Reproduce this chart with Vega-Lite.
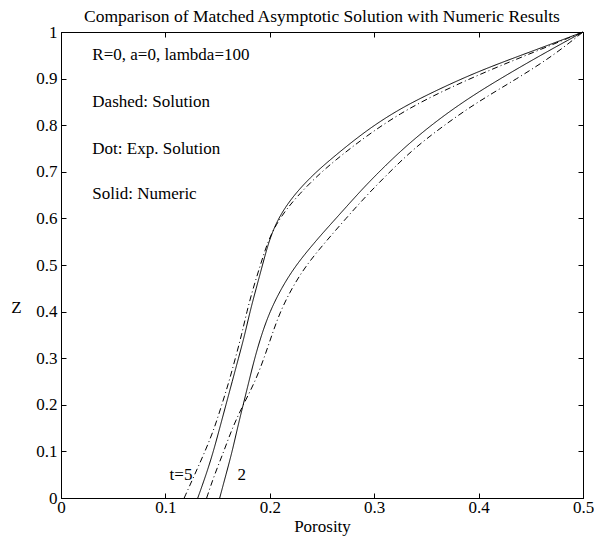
{
  "$schema": "https://vega.github.io/schema/vega-lite/v6.json",
  "width": 522,
  "height": 466,
  "autosize": {"type": "none"},
  "padding": {"left": 61, "top": 32, "right": 11, "bottom": 41},
  "background": "white",
  "title": {"text": "Comparison of Matched Asymptotic Solution with Numeric Results", "offset": -2},
  "config": {
    "view": {"stroke": "black", "strokeWidth": 1},
    "font": "Liberation Serif",
    "title": {"font": "Liberation Serif", "fontSize": 17.5, "fontWeight": "normal", "color": "black"},
    "axis": {
      "grid": false,
      "domainColor": "black",
      "tickColor": "black",
      "labelColor": "black",
      "titleColor": "black",
      "labelFont": "Liberation Serif",
      "titleFont": "Liberation Serif",
      "labelFontSize": 17,
      "titleFontSize": 17,
      "titleFontWeight": "normal",
      "tickSize": -5,
      "labelFlush": false,
      "labelOverlap": false
    }
  },
  "datasets": {
    "curves": [
      {"curve": "num5", "style": "Numeric", "x": 0.131, "z": 0},
      {"curve": "num5", "style": "Numeric", "x": 0.139, "z": 0.05},
      {"curve": "num5", "style": "Numeric", "x": 0.146, "z": 0.10},
      {"curve": "num5", "style": "Numeric", "x": 0.152, "z": 0.15},
      {"curve": "num5", "style": "Numeric", "x": 0.158, "z": 0.20},
      {"curve": "num5", "style": "Numeric", "x": 0.164, "z": 0.25},
      {"curve": "num5", "style": "Numeric", "x": 0.170, "z": 0.30},
      {"curve": "num5", "style": "Numeric", "x": 0.176, "z": 0.35},
      {"curve": "num5", "style": "Numeric", "x": 0.181, "z": 0.40},
      {"curve": "num5", "style": "Numeric", "x": 0.187, "z": 0.45},
      {"curve": "num5", "style": "Numeric", "x": 0.193, "z": 0.50},
      {"curve": "num5", "style": "Numeric", "x": 0.199, "z": 0.55},
      {"curve": "num5", "style": "Numeric", "x": 0.206, "z": 0.59},
      {"curve": "num5", "style": "Numeric", "x": 0.215, "z": 0.625},
      {"curve": "num5", "style": "Numeric", "x": 0.227, "z": 0.66},
      {"curve": "num5", "style": "Numeric", "x": 0.243, "z": 0.697},
      {"curve": "num5", "style": "Numeric", "x": 0.261, "z": 0.732},
      {"curve": "num5", "style": "Numeric", "x": 0.293, "z": 0.79},
      {"curve": "num5", "style": "Numeric", "x": 0.325, "z": 0.836},
      {"curve": "num5", "style": "Numeric", "x": 0.357, "z": 0.872},
      {"curve": "num5", "style": "Numeric", "x": 0.389, "z": 0.905},
      {"curve": "num5", "style": "Numeric", "x": 0.42, "z": 0.933},
      {"curve": "num5", "style": "Numeric", "x": 0.46, "z": 0.966},
      {"curve": "num5", "style": "Numeric", "x": 0.5, "z": 1},
      {"curve": "sol5", "style": "Solution", "x": 0.118, "z": 0},
      {"curve": "sol5", "style": "Solution", "x": 0.128, "z": 0.05},
      {"curve": "sol5", "style": "Solution", "x": 0.138, "z": 0.10},
      {"curve": "sol5", "style": "Solution", "x": 0.147, "z": 0.15},
      {"curve": "sol5", "style": "Solution", "x": 0.154, "z": 0.20},
      {"curve": "sol5", "style": "Solution", "x": 0.161, "z": 0.25},
      {"curve": "sol5", "style": "Solution", "x": 0.167, "z": 0.30},
      {"curve": "sol5", "style": "Solution", "x": 0.173, "z": 0.35},
      {"curve": "sol5", "style": "Solution", "x": 0.178, "z": 0.40},
      {"curve": "sol5", "style": "Solution", "x": 0.184, "z": 0.45},
      {"curve": "sol5", "style": "Solution", "x": 0.191, "z": 0.50},
      {"curve": "sol5", "style": "Solution", "x": 0.198, "z": 0.55},
      {"curve": "sol5", "style": "Solution", "x": 0.206, "z": 0.587},
      {"curve": "sol5", "style": "Solution", "x": 0.216, "z": 0.62},
      {"curve": "sol5", "style": "Solution", "x": 0.229, "z": 0.654},
      {"curve": "sol5", "style": "Solution", "x": 0.244, "z": 0.688},
      {"curve": "sol5", "style": "Solution", "x": 0.261, "z": 0.722},
      {"curve": "sol5", "style": "Solution", "x": 0.293, "z": 0.778},
      {"curve": "sol5", "style": "Solution", "x": 0.325, "z": 0.8255},
      {"curve": "sol5", "style": "Solution", "x": 0.357, "z": 0.864},
      {"curve": "sol5", "style": "Solution", "x": 0.389, "z": 0.897},
      {"curve": "sol5", "style": "Solution", "x": 0.42, "z": 0.927},
      {"curve": "sol5", "style": "Solution", "x": 0.46, "z": 0.963},
      {"curve": "sol5", "style": "Solution", "x": 0.5, "z": 1},
      {"curve": "num2", "style": "Numeric", "x": 0.152, "z": 0},
      {"curve": "num2", "style": "Numeric", "x": 0.158, "z": 0.05},
      {"curve": "num2", "style": "Numeric", "x": 0.164, "z": 0.10},
      {"curve": "num2", "style": "Numeric", "x": 0.169, "z": 0.15},
      {"curve": "num2", "style": "Numeric", "x": 0.1745, "z": 0.20},
      {"curve": "num2", "style": "Numeric", "x": 0.180, "z": 0.25},
      {"curve": "num2", "style": "Numeric", "x": 0.1855, "z": 0.30},
      {"curve": "num2", "style": "Numeric", "x": 0.192, "z": 0.35},
      {"curve": "num2", "style": "Numeric", "x": 0.200, "z": 0.40},
      {"curve": "num2", "style": "Numeric", "x": 0.211, "z": 0.45},
      {"curve": "num2", "style": "Numeric", "x": 0.225, "z": 0.50},
      {"curve": "num2", "style": "Numeric", "x": 0.2435, "z": 0.55},
      {"curve": "num2", "style": "Numeric", "x": 0.2545, "z": 0.578},
      {"curve": "num2", "style": "Numeric", "x": 0.273, "z": 0.624},
      {"curve": "num2", "style": "Numeric", "x": 0.293, "z": 0.674},
      {"curve": "num2", "style": "Numeric", "x": 0.325, "z": 0.745},
      {"curve": "num2", "style": "Numeric", "x": 0.357, "z": 0.805},
      {"curve": "num2", "style": "Numeric", "x": 0.389, "z": 0.856},
      {"curve": "num2", "style": "Numeric", "x": 0.42, "z": 0.899},
      {"curve": "num2", "style": "Numeric", "x": 0.46, "z": 0.951},
      {"curve": "num2", "style": "Numeric", "x": 0.5, "z": 1},
      {"curve": "sol2", "style": "Solution", "x": 0.1395, "z": 0},
      {"curve": "sol2", "style": "Solution", "x": 0.147, "z": 0.05},
      {"curve": "sol2", "style": "Solution", "x": 0.156, "z": 0.10},
      {"curve": "sol2", "style": "Solution", "x": 0.164, "z": 0.15},
      {"curve": "sol2", "style": "Solution", "x": 0.1745, "z": 0.20},
      {"curve": "sol2", "style": "Solution", "x": 0.186, "z": 0.25},
      {"curve": "sol2", "style": "Solution", "x": 0.1945, "z": 0.30},
      {"curve": "sol2", "style": "Solution", "x": 0.202, "z": 0.35},
      {"curve": "sol2", "style": "Solution", "x": 0.210, "z": 0.40},
      {"curve": "sol2", "style": "Solution", "x": 0.221, "z": 0.45},
      {"curve": "sol2", "style": "Solution", "x": 0.235, "z": 0.50},
      {"curve": "sol2", "style": "Solution", "x": 0.2535, "z": 0.55},
      {"curve": "sol2", "style": "Solution", "x": 0.273, "z": 0.60},
      {"curve": "sol2", "style": "Solution", "x": 0.293, "z": 0.65},
      {"curve": "sol2", "style": "Solution", "x": 0.315, "z": 0.70},
      {"curve": "sol2", "style": "Solution", "x": 0.338, "z": 0.75},
      {"curve": "sol2", "style": "Solution", "x": 0.367, "z": 0.80},
      {"curve": "sol2", "style": "Solution", "x": 0.399, "z": 0.85},
      {"curve": "sol2", "style": "Solution", "x": 0.437, "z": 0.90},
      {"curve": "sol2", "style": "Solution", "x": 0.472, "z": 0.95},
      {"curve": "sol2", "style": "Solution", "x": 0.5, "z": 1}
    ],
    "notes": [
      {"label": "R=0, a=0,  lambda=100", "x": 0.030, "z": 0.951},
      {"label": "Dashed: Solution", "x": 0.030, "z": 0.850},
      {"label": "Dot: Exp. Solution", "x": 0.030, "z": 0.750},
      {"label": "Solid: Numeric", "x": 0.030, "z": 0.652},
      {"label": "t=5", "x": 0.104, "z": 0.049},
      {"label": "2", "x": 0.169, "z": 0.049}
    ]
  },
  "layer": [
    {
      "data": {"name": "curves"},
      "mark": {"type": "line", "color": "black", "strokeWidth": 1, "interpolate": "basis"},
      "encoding": {
        "x": {"field": "x", "type": "quantitative", "scale": {"domain": [0, 0.5], "nice": false},
              "axis": {"orient": "bottom", "values": [0, 0.1, 0.2, 0.3, 0.4, 0.5], "format": "~g", "title": "Porosity",
                       "labelPadding": 6, "titleY": 33, "titleBaseline": "alphabetic"}},
        "y": {"field": "z", "type": "quantitative", "scale": {"domain": [0, 1], "nice": false},
              "axis": {"orient": "left", "values": [0, 0.1, 0.2, 0.3, 0.4, 0.5, 0.6, 0.7, 0.8, 0.9, 1], "format": "~g", "title": "Z",
                       "labelPadding": 9, "titleAngle": 0, "titleX": -45, "titleY": 275, "titleAlign": "center", "titleBaseline": "middle"}},
        "detail": {"field": "curve"},
        "order": {"field": "z", "type": "quantitative"},
        "strokeDash": {"field": "style", "type": "nominal",
                       "scale": {"domain": ["Numeric", "Solution"], "range": [[1, 0], [6, 3, 1, 3]]}, "legend": null}
      }
    },
    {
      "data": {"name": "notes"},
      "mark": {"type": "text", "font": "Liberation Serif", "fontSize": 17, "color": "black", "align": "left", "baseline": "middle"},
      "encoding": {
        "x": {"field": "x", "type": "quantitative",
              "axis": {"orient": "top", "values": [0, 0.1, 0.2, 0.3, 0.4, 0.5], "labels": false, "title": null}},
        "y": {"field": "z", "type": "quantitative",
              "axis": {"orient": "right", "values": [0, 0.1, 0.2, 0.3, 0.4, 0.5, 0.6, 0.7, 0.8, 0.9, 1], "labels": false, "title": null}},
        "text": {"field": "label"}
      }
    }
  ],
  "resolve": {"axis": {"x": "independent", "y": "independent"}}
}
